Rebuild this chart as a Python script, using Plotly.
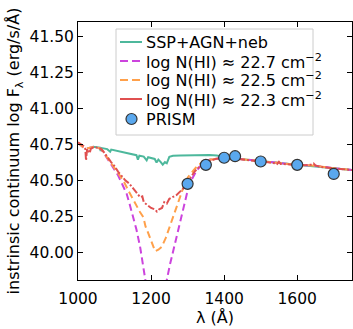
import plotly.graph_objects as go

# intrinsic SED (SSP+AGN+neb)
ssp_wave = [1040, 1050, 1060, 1062, 1065, 1080, 1088, 1091, 1100,
            1120, 1140, 1160, 1164, 1168, 1180, 1188, 1192, 1200, 1210, 1215, 1220, 1226,
            1232, 1238, 1243, 1250, 1260, 1280, 1300, 1320, 1340, 1360, 1380, 1400, 1450,
            1500, 1600, 1700, 1750]
ssp_flux = [40.735, 40.73, 40.728, 40.705, 40.725, 40.718, 40.70,
            40.715, 40.71, 40.70, 40.688, 40.676, 40.645, 40.672, 40.666, 40.64, 40.662,
            40.656, 40.65, 40.625, 40.645, 40.63, 40.61, 40.628, 40.62, 40.665, 40.672,
            40.674, 40.676, 40.675, 40.678, 40.677, 40.674, 40.664, 40.648, 40.634, 40.61,
            40.585, 40.574]

# DLA-absorbed models
n227_wave = [1000, 1020, 1045, 1063, 1081, 1100, 1110, 1120, 1133, 1142, 1152, 1160, 1170,
             1177, 1184, 1195, 1205, 1215, 1225, 1235, 1243, 1252, 1261, 1272, 1284, 1294,
             1302, 1314, 1325, 1340, 1360, 1380, 1400, 1450, 1500, 1550, 1600, 1650, 1700, 1750]
n227_flux = [40.76, 40.72, 40.735, 40.72, 40.65, 40.58, 40.535, 40.48, 40.41, 40.33, 40.245,
             40.16, 40.04, 39.93, 39.81, 39.62, 39.48, 39.42, 39.48, 39.65, 39.81, 39.92,
             40.014, 40.13, 40.245, 40.36, 40.45, 40.52, 40.57, 40.615, 40.645, 40.652,
             40.66, 40.648, 40.634, 40.625, 40.609, 40.603, 40.585, 40.573]

n225_wave = [1000, 1020, 1045, 1063, 1081, 1100, 1110, 1124, 1140, 1150, 1160, 1170, 1179,
             1185, 1190, 1200, 1211, 1220, 1229, 1240, 1250, 1261, 1270, 1280, 1288, 1300,
             1316, 1330, 1345, 1360, 1380, 1400, 1450, 1500, 1550, 1600, 1650, 1700, 1750]
n225_flux = [40.76, 40.72, 40.735, 40.72, 40.655, 40.59, 40.55, 40.50, 40.42, 40.37, 40.32,
             40.28, 40.245, 40.18, 40.15, 40.08, 40.01, 40.02, 40.04, 40.10, 40.17, 40.245,
             40.32, 40.39, 40.45, 40.52, 40.57, 40.61, 40.63, 40.645, 40.652, 40.66, 40.648,
             40.634, 40.625, 40.609, 40.603, 40.585, 40.573]

n223_wave = [1000, 1008, 1015, 1020, 1022, 1025, 1030, 1032, 1035, 1045, 1055, 1063, 1070,
             1081, 1090, 1100, 1110, 1120, 1130, 1140, 1150, 1160, 1170, 1176, 1180, 1190,
             1200, 1210, 1216, 1222, 1230, 1236, 1243, 1250, 1260, 1270, 1280, 1290, 1300,
             1310, 1320, 1330, 1340, 1350, 1365, 1380, 1400, 1420, 1450, 1480, 1500, 1520,
             1540, 1545, 1550, 1555, 1580, 1600, 1620, 1640, 1645, 1650, 1663, 1680, 1700,
             1720, 1750]
n223_flux = [40.765, 40.75, 40.74, 40.72, 40.64, 40.72, 40.70, 40.69, 40.72, 40.735, 40.725,
             40.72, 40.70, 40.66, 40.63, 40.60, 40.56, 40.53, 40.50, 40.48, 40.45, 40.42,
             40.385, 40.39, 40.35, 40.33, 40.31, 40.30, 40.285, 40.30, 40.31, 40.35, 40.34,
             40.373, 40.385, 40.40, 40.425, 40.45, 40.49, 40.53, 40.565, 40.59, 40.61,
             40.625, 40.64, 40.652, 40.66, 40.655, 40.648, 40.64, 40.634, 40.627, 40.62,
             40.615, 40.63, 40.615, 40.612, 40.609, 40.607, 40.61, 40.618, 40.605, 40.595,
             40.59, 40.585, 40.58, 40.573]

# PRISM points
prism_wave = [1300, 1350, 1400, 1430, 1500, 1600, 1700]
prism_flux = [40.477, 40.609, 40.658, 40.669, 40.632, 40.609, 40.546]

labels = ['SSP+AGN+neb',
          'log N(HI) ≈ 22.7 cm<sup>−2</sup>',
          'log N(HI) ≈ 22.5 cm<sup>−2</sup>',
          'log N(HI) ≈ 22.3 cm<sup>−2</sup>',
          'PRISM']

teal, magenta, orange, red, blue = '#4db89c', '#cc44dd', '#ffa04a', '#e05050', '#5aa8ee'

fig = go.Figure()
fig.add_trace(go.Scatter(x=ssp_wave, y=ssp_flux, mode='lines', name=labels[0],
                         line=dict(color=teal, width=2)))
fig.add_trace(go.Scatter(x=n227_wave, y=n227_flux, mode='lines', name=labels[1],
                         line=dict(color=magenta, width=2, dash='7px,4px')))
fig.add_trace(go.Scatter(x=n225_wave, y=n225_flux, mode='lines', name=labels[2],
                         line=dict(color=orange, width=2, dash='7px,4px')))
fig.add_trace(go.Scatter(x=n223_wave, y=n223_flux, mode='lines', name=labels[3],
                         line=dict(color=red, width=2, dash='7px,2px,2px,2px')))
fig.add_trace(go.Scatter(x=prism_wave, y=prism_flux, mode='markers', name=labels[4],
                         marker=dict(color=blue, size=11,
                                     line=dict(color='#333333', width=1.2))))

# hand-drawn legend box (matplotlib-like compact key)
px_l, px_r, px_t, px_b = 78, 352, 22, 280


def fx(px):
    return (px - px_l) / (px_r - px_l)


def fy(py):
    return 1 - (py - px_t) / (px_b - px_t)


fig.add_shape(type='rect', xref='paper', yref='paper',
              x0=fx(116), x1=fx(313), y0=fy(135), y1=fy(29),
              fillcolor='rgba(255,255,255,0.85)', line=dict(color='#cccccc', width=1))
row_y = [42, 61, 80, 99, 119]
row_style = [dict(color=teal, width=2), dict(color=magenta, width=2, dash='8px,4px'),
             dict(color=orange, width=2, dash='8px,4px'), dict(color=red, width=2)]
for i, st in enumerate(row_style):
    fig.add_shape(type='line', xref='paper', yref='paper',
                  x0=fx(120), x1=fx(142), y0=fy(row_y[i]), y1=fy(row_y[i]), line=st)
fig.add_shape(type='circle', xref='paper', yref='paper', xsizemode='pixel',
              ysizemode='pixel', xanchor=fx(131.5), yanchor=fy(row_y[4]),
              x0=-5.5, x1=5.5, y0=-5.5, y1=5.5,
              fillcolor=blue, line=dict(color='#333333', width=1.2))
for i, lab in enumerate(labels):
    fig.add_annotation(xref='paper', yref='paper', x=fx(144), y=fy(row_y[i]),
                       xanchor='left', yanchor='middle', text=lab, showarrow=False,
                       font=dict(size=16, color='black'))

axis = dict(showline=True, linecolor='black', linewidth=1, mirror='allticks',
            ticks='inside', ticklen=5, tickcolor='black', showgrid=False, zeroline=False,
            automargin=False, tickfont=dict(size=15.5, color='black'))

fig.update_layout(
    width=353, height=329,
    margin=dict(l=78, r=1, t=22, b=49),
    paper_bgcolor='white', plot_bgcolor='white',
    font=dict(family='DejaVu Sans', size=16, color='black'),
    xaxis=dict(axis, range=[1000, 1750], dtick=200, tick0=1000, ticklabelstandoff=4,
               title=dict(text='λ (Å)', standoff=0, font=dict(size=16))),
    yaxis=dict(axis, range=[39.81, 41.60], dtick=0.25, tick0=40.0, tickformat='.2f',
               title=dict(text='instrinsic continuum log F<sub>λ</sub> (erg/s/Å)',
                          standoff=5, font=dict(size=16))),
    showlegend=False,
)

fig.write_html("out.html", config={'displayModeBar': False},
               post_script="document.body.style.margin='0';")
